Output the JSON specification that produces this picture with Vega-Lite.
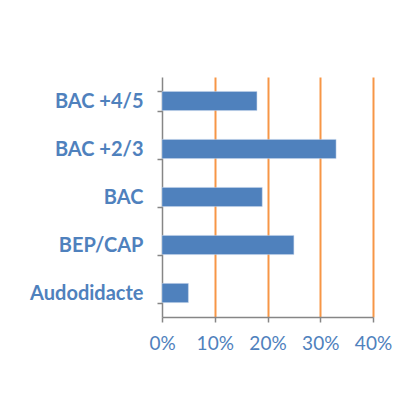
{
  "$schema": "https://vega.github.io/schema/vega-lite/v6.json",
  "autosize": "none",
  "width": 211,
  "height": 240,
  "padding": {"left": 162, "top": 77, "right": 36, "bottom": 84},
  "background": "white",
  "data": {
    "values": [
      {"niveau": "BAC +4/5", "part": 0.18},
      {"niveau": "BAC +2/3", "part": 0.33},
      {"niveau": "BAC", "part": 0.19},
      {"niveau": "BEP/CAP", "part": 0.25},
      {"niveau": "Audodidacte", "part": 0.05}
    ]
  },
  "mark": {"type": "bar", "color": "#4F81BD", "stroke": "#c6d5ea", "strokeWidth": 0.5},
  "encoding": {
    "y": {
      "field": "niveau",
      "type": "nominal",
      "sort": null,
      "scale": {"paddingInner": 0.6, "paddingOuter": 0.3},
      "axis": {
        "title": null,
        "domainColor": "#868686",
        "domainWidth": 1.5,
        "tickColor": "#868686",
        "tickWidth": 1.5,
        "tickSize": 5,
        "tickBand": "extent",
        "labelColor": "#4F81BD",
        "labelFont": "Lato",
        "labelFontWeight": "bold",
        "labelFontSize": 20,
        "labelPadding": 14,
        "labelOverlap": false,
        "labelBound": false,
        "labelLimit": 200,
        "grid": false
      }
    },
    "x": {
      "field": "part",
      "type": "quantitative",
      "scale": {"domain": [0, 0.4], "nice": false},
      "axis": {
        "title": null,
        "format": ".0%",
        "values": [0, 0.1, 0.2, 0.3, 0.4],
        "domainColor": "#868686",
        "domainWidth": 1.5,
        "tickColor": "#868686",
        "tickWidth": 1.5,
        "tickSize": 5,
        "labelColor": "#4F81BD",
        "labelFont": "Lato",
        "labelFontSize": 19,
        "labelPadding": 12,
        "labelOverlap": false,
        "labelFlush": false,
        "labelBound": false,
        "grid": true,
        "gridColor": {"condition": {"test": "datum.value === 0", "value": "transparent"}, "value": "#F79646"},
        "gridWidth": 2
      }
    }
  },
  "config": {"view": {"stroke": null}}
}
